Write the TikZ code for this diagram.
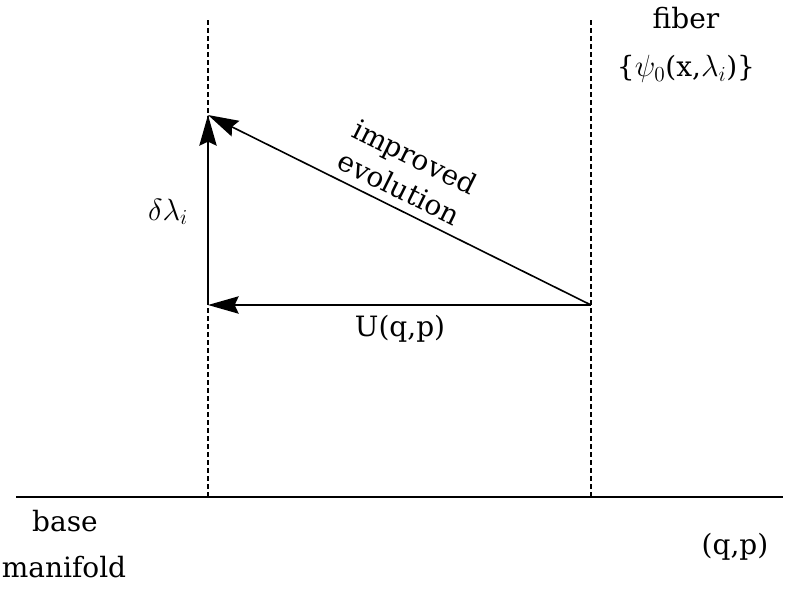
\RequirePackage{fix-cm}
\documentclass[tikz,border=0pt]{standalone}
\usepackage{fontspec}
\setmainfont{DejaVu Serif}
\DeclareMathSizes{21}{23}{16}{12}
\usetikzlibrary{arrows.meta}
\begin{document}
\begin{tikzpicture}[x=0.75pt,y=-0.75pt,
  txt/.style={font=\fontsize{21pt}{26pt}\selectfont, inner sep=0pt},
  guide/.style={line width=0.9pt, dash pattern=on 3.5pt off 2.5pt},
  arr/.style={line width=1.2pt, -{Stealth[length=23pt,width=13pt,inset=3pt]}}]
\useasboundingbox (0,0) rectangle (800,589);
\coordinate (bl) at (16,497);
\coordinate (br) at (783,497);
\coordinate (lt) at (208,20);
\coordinate (lb) at (208,497);
\coordinate (rt) at (591,20);
\coordinate (rb) at (591,497);
\coordinate (A) at (591,305);
\coordinate (B) at (208,305);
\coordinate (C) at (208,115);
\draw[line width=1.2pt] (bl) -- (br);
\draw[guide] (lt) -- (lb);
\draw[guide] (rt) -- (rb);
\draw[arr] (A) -- (B);
\draw[arr] (B) -- (C);
\draw[arr] (A) -- (C);
\node[txt] (u) at (400,329) {U(q,p)};
\node[txt] (dl) at (168,212) {$\delta\lambda_i$};
\node[txt, align=center, rotate=-26.4] (ie) at (407,172) {improved\\evolution};
\node[txt] (fib) at (686,18) {fiber};
\node[txt] (psi) at (686,69) {\{$\psi_0$(x,$\lambda_i$)\}};
\node[txt] (base) at (65,521) {base};
\node[txt] (man) at (64,567) {manifold};
\node[txt] (qp) at (735,547) {(q,p)};
\end{tikzpicture}
\end{document}
